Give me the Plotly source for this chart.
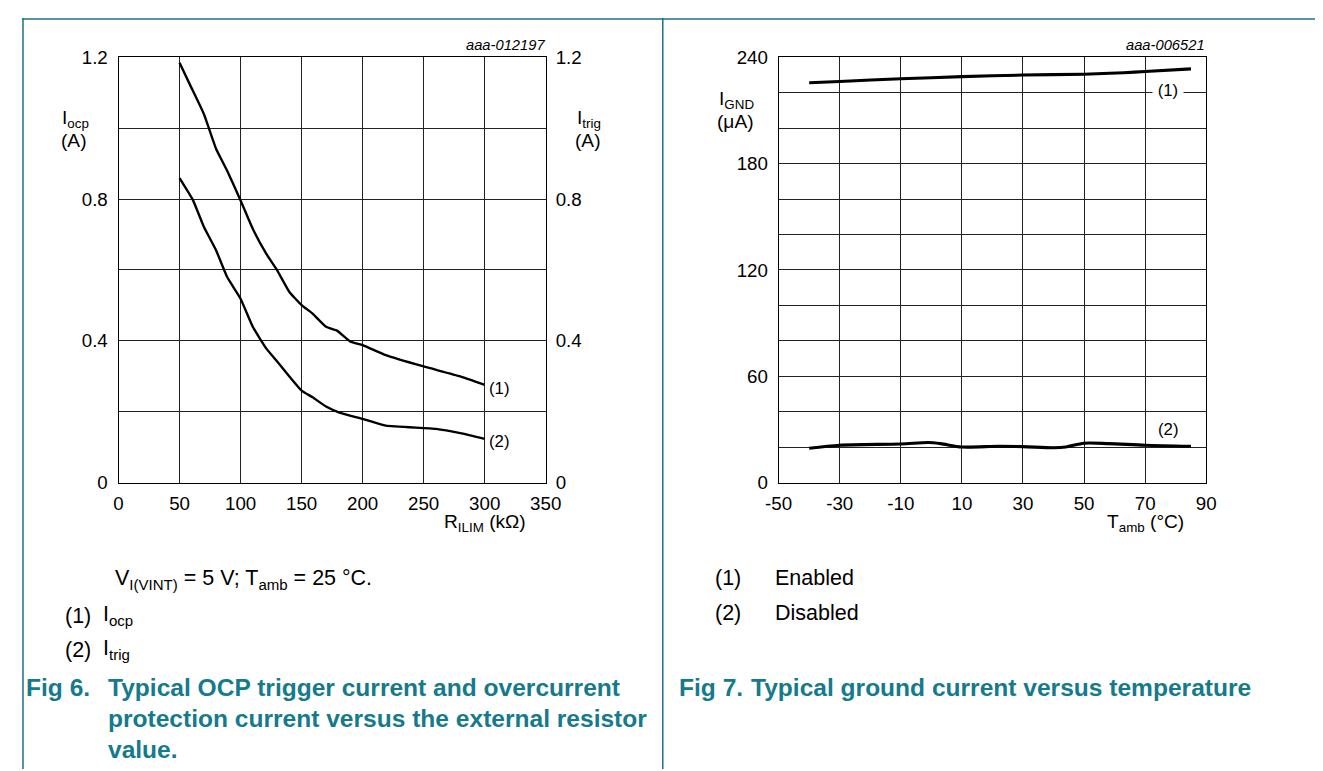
import plotly.graph_objects as go

# ---------------- data ----------------
# Fig 6: OCP currents vs external resistor
r_ilim_ocp = [50, 59, 70, 80, 89, 100, 110, 121, 130, 140, 150, 159, 170, 179, 190, 200, 219, 250, 280, 300]
i_ocp = [1.184, 1.119, 1.039, 0.941, 0.880, 0.796, 0.716, 0.646, 0.599, 0.538, 0.501, 0.477, 0.440, 0.429,
         0.398, 0.388, 0.360, 0.328, 0.300, 0.276]
r_ilim_trig = [50, 61, 70, 80, 89, 100, 110, 121, 130, 140, 150, 159, 170, 181, 200, 219, 260, 280, 300]
i_trig = [0.859, 0.797, 0.721, 0.655, 0.580, 0.519, 0.440, 0.379, 0.342, 0.300, 0.260, 0.241, 0.215, 0.198,
          0.180, 0.161, 0.152, 0.140, 0.124]

# Fig 7: ground current vs temperature
t_amb_en = [-40, -30, -10, 10, 30, 50, 63, 70, 85]
ignd_en = [225.6, 226.3, 227.8, 229.0, 229.9, 230.4, 231.2, 231.9, 233.4]
t_amb_dis = [-40, -30, -10, -1, 3, 10, 22, 30, 40, 44, 50, 58, 70, 85]
ignd_dis = [19.5, 21.2, 21.9, 22.7, 22.1, 20.2, 20.6, 20.4, 19.8, 20.2, 22.3, 22.1, 21.2, 20.6]

# ticks
x1_ticks = [0, 50, 100, 150, 200, 250, 300, 350]
y1_ticks = [0, 0.2, 0.4, 0.6, 0.8, 1.0, 1.2]
y1_text = ["0", "", "0.4", "", "0.8", "", "1.2"]
x2_ticks = [-50, -30, -10, 10, 30, 50, 70, 90]
x2_text = ["-50", "-30", "-10", "10", "30", "50", "70", "90"]
y2_ticks = [0, 20, 40, 60, 80, 100, 120, 140, 160, 180, 200, 220, 240]
y2_text = ["0", "", "", "60", "", "", "120", "", "", "180", "", "", "240"]

# ---------------- layout helpers ----------------
# the photographed page appears scaled by S about the window centre; compensate for it
S = 0.977
CX, CY = 661.5, 385.5
M = 8  # body margin


def fx(t):
    return CX + (t - CX) / S - M


def fy(t):
    return CY + (t - CY) / S - M


W = int(round(fx(1323)))
H = int(round(fy(771)))
FONT = "Liberation Sans, Arial, sans-serif"
TEAL = "#157a8c"
BORDER = "#1c6f87"
GRID = "#222222"
TICK = 18.3 / S


def px(t):
    return min(1.0, max(0.0, fx(t) / W))


def py(t):
    return min(1.0, max(0.0, 1 - fy(t) / H))


fig = go.Figure()

fig.add_trace(go.Scatter(x=r_ilim_ocp, y=i_ocp, mode="lines", xaxis="x", yaxis="y",
                         line=dict(color="black", width=2.3 / S, shape="spline", smoothing=0.4),
                         showlegend=False, hoverinfo="x+y"))
fig.add_trace(go.Scatter(x=r_ilim_trig, y=i_trig, mode="lines", xaxis="x", yaxis="y3",
                         line=dict(color="black", width=2.3 / S, shape="spline", smoothing=0.4),
                         showlegend=False, hoverinfo="x+y"))
fig.add_trace(go.Scatter(x=t_amb_en, y=ignd_en, mode="lines", xaxis="x2", yaxis="y2",
                         line=dict(color="black", width=3 / S, shape="spline", smoothing=0.6),
                         showlegend=False, hoverinfo="x+y"))
fig.add_trace(go.Scatter(x=t_amb_dis, y=ignd_dis, mode="lines", xaxis="x2", yaxis="y2",
                         line=dict(color="black", width=3 / S, shape="spline", smoothing=0.8),
                         showlegend=False, hoverinfo="x+y"))

base = dict(showgrid=True, gridcolor=GRID, gridwidth=1, showline=True, linecolor="black",
            linewidth=1, mirror=True, zeroline=False, ticks="", ticklen=0,
            tickfont=dict(family=FONT, size=TICK, color="black"), fixedrange=True)

dom_y = [py(483.5), py(56)]

fig.update_layout(
    width=W, height=H, margin=dict(l=0, r=0, t=0, b=0),
    paper_bgcolor="white", plot_bgcolor="white",
    font=dict(family=FONT, color="black"),
    xaxis=dict(domain=[px(119.5), px(546.5)], range=[0, 350], tickvals=x1_ticks, anchor="y",
               ticklabelstandoff=4, **base),
    yaxis=dict(domain=dom_y, range=[0, 1.2], tickvals=y1_ticks, ticktext=y1_text, anchor="x",
               ticklabelstandoff=6, **base),
    yaxis3=dict(overlaying="y", side="right", range=[0, 1.2], tickvals=y1_ticks, ticktext=y1_text,
                anchor="x", showgrid=False, showline=False, zeroline=False, ticks="", ticklen=0,
                ticklabelstandoff=9, tickfont=dict(family=FONT, size=TICK, color="black"), fixedrange=True),
    xaxis2=dict(domain=[px(779.3), px(1206.7)], range=[-50, 90], tickvals=x2_ticks, ticktext=x2_text,
                anchor="y2", ticklabelstandoff=4, **base),
    yaxis2=dict(domain=dom_y, range=[0, 240], tickvals=y2_ticks, ticktext=y2_text, anchor="x2",
                ticklabelstandoff=6, **base),
)

ann = []


def text(x, y, s, size=18.7, xanchor="center", color="black", bold=False, italic=False, bg=None,
         xref="paper", yref="paper"):
    if xref == "paper":
        x = px(x)
    if yref == "paper":
        y = py(y)
    if bold:
        s = "<b>" + s + "</b>"
    if italic:
        s = "<i>" + s + "</i>"
    d = dict(x=x, y=y, xref=xref, yref=yref, text=s, showarrow=False, xanchor=xanchor, yanchor="middle",
             font=dict(family=FONT, size=size / S, color=color), align="left", borderpad=0)
    if bg:
        d["bgcolor"] = bg
    ann.append(d)


CAP = 24
NOTE = 21

# Fig 6 chart texts
text(546.5, 44, "aaa-012197", size=14.4, xanchor="right", italic=True)
text(77, 118, "I<sub>ocp</sub>")
text(75, 140, "(A)")
text(590, 118, "I<sub>trig</sub>")
text(589, 140, "(A)")
text(486, 524, "R<sub>ILIM</sub> (kΩ)")
text(312, 0.265, "(1)", size=16.4, xref="x", yref="y")
text(312, 0.116, "(2)", size=16.4, xref="x", yref="y")

# Fig 7 chart texts
text(1206.7, 44, "aaa-006521", size=14.4, xanchor="right", italic=True)
text(737, 99, "I<sub>GND</sub>")
text(736, 121, "(μA)")
text(1146, 524, "T<sub>amb</sub> (°C)")
text(77.6, 221, " (1) ", size=16.4, xref="x2", yref="y2", bg="white")
text(77.6, 30, "(2)", size=16.4, xref="x2", yref="y2")

# Notes under Fig 6
text(115, 581, "V<sub>I(VINT)</sub> = 5 V; T<sub>amb</sub> = 25 °C.", size=NOTE, xanchor="left")
text(65, 617, "(1)", size=NOTE, xanchor="left")
text(103, 617, "I<sub>ocp</sub>", size=NOTE, xanchor="left")
text(65, 651, "(2)", size=NOTE, xanchor="left")
text(103, 651, "I<sub>trig</sub>", size=NOTE, xanchor="left")
text(26, 689, "Fig 6.", size=CAP, xanchor="left", color=TEAL, bold=True)
text(108, 689, "Typical OCP trigger current and overcurrent", size=CAP, xanchor="left", color=TEAL, bold=True)
text(108, 720, "protection current versus the external resistor", size=CAP, xanchor="left", color=TEAL, bold=True)
text(108, 751, "value.", size=CAP, xanchor="left", color=TEAL, bold=True)

# Notes under Fig 7
text(715, 579, "(1)", size=NOTE, xanchor="left")
text(775, 579, "Enabled", size=NOTE, xanchor="left")
text(715, 614, "(2)", size=NOTE, xanchor="left")
text(775, 614, "Disabled", size=NOTE, xanchor="left")
text(679, 689, "Fig 7.", size=CAP, xanchor="left", color=TEAL, bold=True)
text(751, 689, "Typical ground current versus temperature", size=CAP, xanchor="left", color=TEAL, bold=True)

fig.update_layout(annotations=ann)

# panel frame (drawn as close to the page edge as the figure allows)
shapes = [
    dict(type="line", xref="paper", yref="paper", x0=0, x1=1, y0=1 - 1 / H, y1=1 - 1 / H,
         line=dict(color=BORDER, width=1.5)),
    dict(type="line", xref="paper", yref="paper", x0=1 / W, x1=1 / W, y0=1, y1=0,
         line=dict(color=BORDER, width=1.5)),
    dict(type="line", xref="paper", yref="paper", x0=px(663.5), x1=px(663.5), y0=1, y1=0,
         line=dict(color=BORDER, width=1.5)),
]
fig.update_layout(shapes=shapes)

fig.write_html("out.html", config={"displayModeBar": False})
